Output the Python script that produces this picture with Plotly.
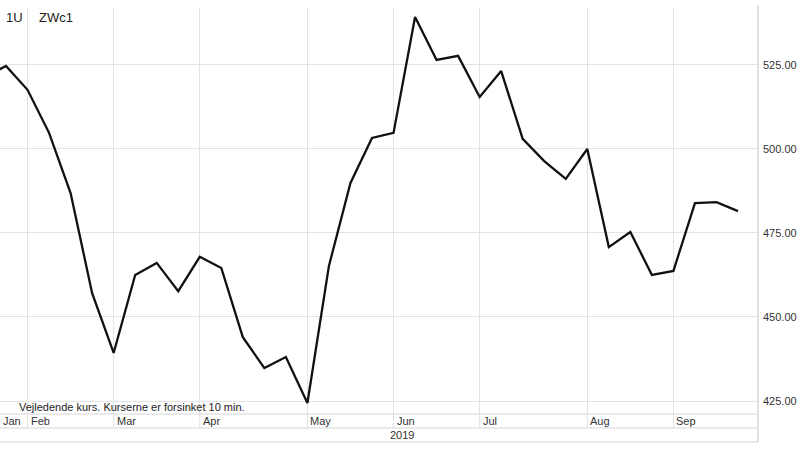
import plotly.graph_objects as go

# Weekly dates (Mondays) and closing prices
dates = ["2019-01-21", "2019-01-28", "2019-02-04", "2019-02-11", "2019-02-18", "2019-02-25",
         "2019-03-04", "2019-03-11", "2019-03-18", "2019-03-25", "2019-04-01", "2019-04-08",
         "2019-04-15", "2019-04-22", "2019-04-29", "2019-05-06", "2019-05-13", "2019-05-20",
         "2019-05-27", "2019-06-03", "2019-06-10", "2019-06-17", "2019-06-24", "2019-07-01",
         "2019-07-08", "2019-07-15", "2019-07-22", "2019-07-29", "2019-08-05", "2019-08-12",
         "2019-08-19", "2019-08-26", "2019-09-02", "2019-09-09", "2019-09-16", "2019-09-23"]
prices = [521.4, 524.7, 517.6, 504.8, 486.9, 457.1,
          439.3, 462.5, 466.1, 457.7, 467.9, 464.6,
          444.0, 434.8, 438.1, 424.4, 465.2, 489.9,
          503.3, 504.8, 539.3, 526.5, 527.7, 515.5,
          523.2, 503.0, 496.4, 491.1, 500.0, 470.8,
          475.3, 462.5, 463.7, 483.9, 484.2, 481.5]

month_dates = ["2019-02-04", "2019-03-04", "2019-04-01", "2019-05-06", "2019-06-03",
               "2019-07-01", "2019-08-05", "2019-09-02"]
month_labels = ["Feb", "Mar", "Apr", "May", "Jun", "Jul", "Aug", "Sep"]
y_ticks = [425, 450, 475, 500, 525]
year_label = "2019"
symbol_labels = ["1U", "ZWc1"]
note = "Vejledende kurs. Kurserne er forsinket 10 min."

FONT = "Liberation Sans, Arial, Helvetica, sans-serif"
GRID = "#e3e3e3"

fig = go.Figure()
fig.add_trace(go.Scatter(x=dates, y=prices, mode="lines",
                         line=dict(color="#111111", width=2.3), hoverinfo="skip",
                         showlegend=False))

fig.update_layout(
    width=800, height=450,
    margin=dict(l=0, r=42, t=8, b=36),
    paper_bgcolor="white", plot_bgcolor="white",
    font=dict(family=FONT, size=11, color="#333333"),
    xaxis=dict(type="date", range=["2019-01-26 01:10", "2019-09-29 12:05"],
               tickvals=month_dates, showticklabels=False, showgrid=True,
               gridcolor=GRID, gridwidth=1, zeroline=False, showline=False,
               fixedrange=True),
    yaxis=dict(side="right", range=[421.13, 541.96], tickvals=y_ticks,
               tickformat=".2f", showgrid=True, gridcolor=GRID, gridwidth=1,
               zeroline=False, showline=False, ticks="", ticklabelstandoff=4,
               tickfont=dict(size=11, color="#333333"), fixedrange=True,
               automargin=False),
)

shapes = []
# horizontal separators: plot bottom, month row bottom, year row bottom
for yp in [0, -0.0345, -0.069]:
    shapes.append(dict(type="line", xref="paper", yref="paper", x0=0, x1=1, y0=yp, y1=yp,
                       line=dict(color=GRID, width=1.5)))
# right border
shapes.append(dict(type="line", xref="paper", yref="paper", x0=1, x1=1, y0=-0.069, y1=1.0074,
                   line=dict(color=GRID, width=2)))
# month gridline extension into label row
for d in month_dates:
    shapes.append(dict(type="line", xref="x", yref="paper", x0=d, x1=d, y0=-0.0345, y1=0,
                       line=dict(color=GRID, width=1)))
fig.update_layout(shapes=shapes)

ann = []
ann.append(dict(x=0, y=-0.0172, xref="paper", yref="paper", text="Jan", showarrow=False,
                xanchor="left", yanchor="middle", xshift=1, font=dict(size=11, color="#333333")))
for d, lab in zip(month_dates, month_labels):
    ann.append(dict(x=d, y=-0.0172, xref="x", yref="paper", text=lab, showarrow=False,
                    xanchor="left", yanchor="middle", xshift=1, font=dict(size=11, color="#333333")))
ann.append(dict(x=388 / 758, y=-0.052, xref="paper", yref="paper", text=year_label,
                showarrow=False, xanchor="left", yanchor="middle",
                font=dict(size=11, color="#333333")))
ann.append(dict(x=17 / 758, y=0.017, xref="paper", yref="paper", text=note, showarrow=False,
                xanchor="left", yanchor="middle", font=dict(size=11, color="#222222")))
ann.append(dict(x=4 / 758, y=(414 - 17) / 406, xref="paper", yref="paper", text=symbol_labels[0],
                showarrow=False, xanchor="left", yanchor="middle",
                font=dict(size=13, color="#222222")))
ann.append(dict(x=37 / 758, y=(414 - 17) / 406, xref="paper", yref="paper", text=symbol_labels[1],
                showarrow=False, xanchor="left", yanchor="middle",
                font=dict(size=13, color="#222222")))
fig.update_layout(annotations=ann)

fig.write_html("out.html", config={"displayModeBar": False, "staticPlot": True},
               post_script="document.body.style.margin='0';document.body.style.overflow='hidden';")
